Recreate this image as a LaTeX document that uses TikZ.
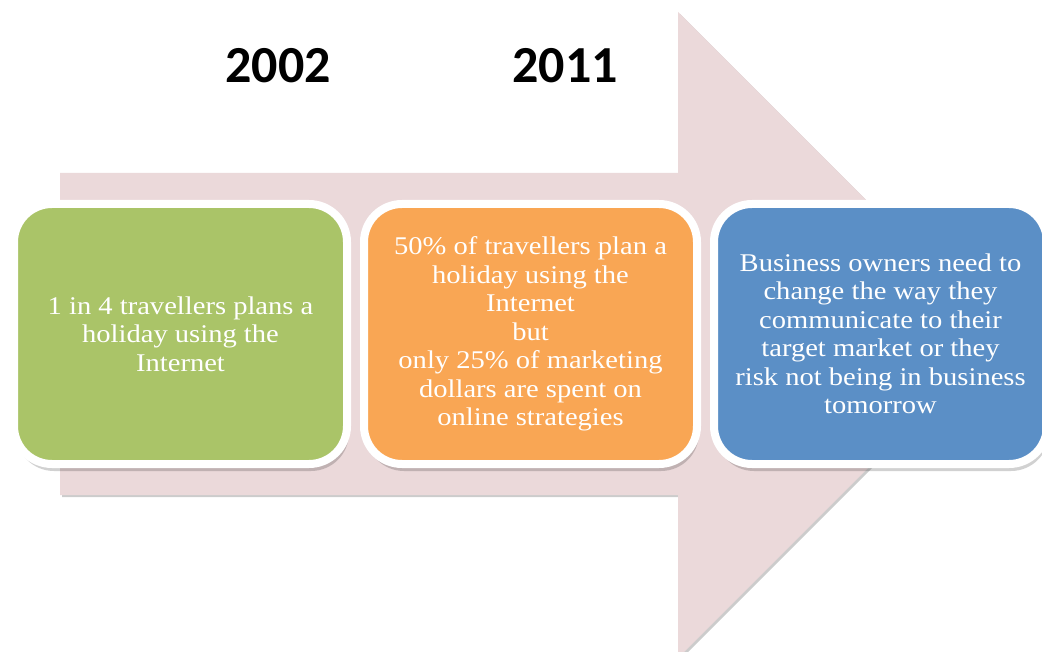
\documentclass[tikz,border=0pt]{standalone}
\usepackage{fontspec}
\setmainfont{Liberation Serif}[FakeStretch=1.12]
\newfontfamily\yearfamily{Carlito}
\usepackage{tikz}
\usetikzlibrary{shadows}

\definecolor{arrowpink}{RGB}{235,217,218}
\definecolor{stagegreen}{RGB}{170,196,104}
\definecolor{stageorange}{RGB}{249,166,84}
\definecolor{stageblue}{RGB}{91,143,198}

\begin{document}
\begin{tikzpicture}[x=1pt,y=-1pt]
    \useasboundingbox (0,0) rectangle (1042,652);

    \tikzstyle{stage} = [draw=white, line width=8pt, rounded corners=38pt, minimum width=333pt, minimum height=260pt, align=center, text=white, font=\fontsize{25.5}{28.5}\selectfont, drop shadow={shadow xshift=2pt, shadow yshift=-7pt, opacity=.18, fill=black}]
    \tikzstyle{year} = [font=\yearfamily\bfseries\fontsize{52}{60}\selectfont]

    % big arrow behind the stages
    \fill[arrowpink, drop shadow={shadow xshift=2pt, shadow yshift=-2pt, opacity=.2, fill=black}]
        (60,173) -- (678,173) -- (678,12) -- (1001,335) -- (678,658) -- (678,495) -- (60,495) -- cycle;

    \node[year] (y1) at (278,66) {2002};
    \node[year] (y2) at (565,66) {2011};

    \node[stage, fill=stagegreen] (s1) at (180.5,334) {1 in 4 travellers plans a\\holiday using the\\Internet};
    \node[stage, fill=stageorange] (s2) at (530.5,334) {50\% of travellers plan a\\holiday using the\\Internet\\but\\only 25\% of marketing\\dollars are spent on\\online strategies};
    \node[stage, fill=stageblue] (s3) at (880.5,334) {Business owners need to\\change the way they\\communicate to their\\target market or they\\risk not being in business\\tomorrow};
\end{tikzpicture}
\end{document}
